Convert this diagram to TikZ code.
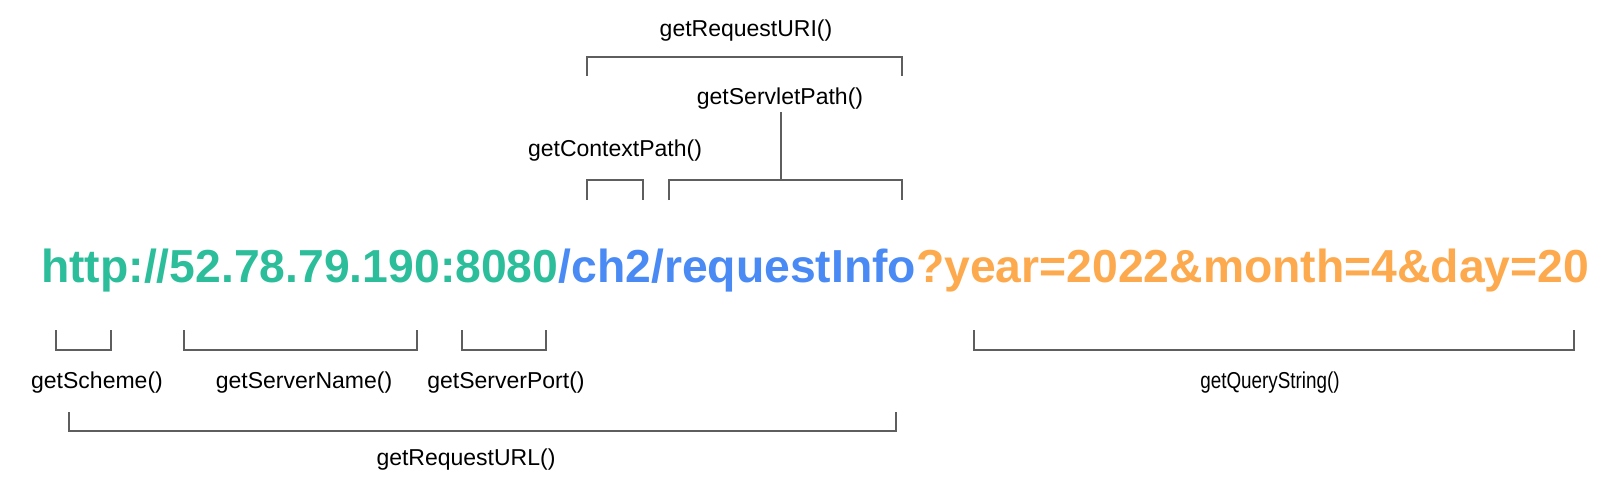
\documentclass[tikz,border=0pt]{standalone}
\usepackage{fontspec}
\setmainfont{Liberation Sans}
\usepackage{graphicx}
\usetikzlibrary{calc}
\definecolor{urlgreen}{HTML}{2CBE9A}
\definecolor{urlblue}{HTML}{4A8AF4}
\definecolor{urlorange}{HTML}{FDAA4E}
\definecolor{bracketgray}{HTML}{5E5E5E}

\begin{document}
\begin{tikzpicture}[x=1pt,y=-1pt,
    bracket/.style={draw=bracketgray,line width=1.6pt},
    method/.style={inner sep=2pt,font=\fontsize{23}{26}\selectfont}]
  \useasboundingbox (0,0) rectangle (1610,498);
  \node[anchor=base west,inner sep=0pt,font=\fontsize{46.3}{50}\selectfont\bfseries] (url) at (41,282)
    {\textcolor{urlgreen}{http://52.78.79.190:8080}\textcolor{urlblue}{/ch2/requestInfo}\textcolor{urlorange}{?year=2022\&month=4\&day=20}};
  % above the url
  \node[method] (uri) at (746,31) {getRequestURI()};
  \node[method] (servlet) at (780,99) {getServletPath()};
  \node[method] (context) at (615,151) {getContextPath()};
  \coordinate (uriL) at (587,76);
  \coordinate (uriR) at (902,76);
  \coordinate (ctxL) at (587,200);
  \coordinate (ctxR) at (643,200);
  \coordinate (svlL) at (669,200);
  \coordinate (svlR) at (902,200);
  \coordinate (svlM) at (781,180);
  \draw[bracket] (uriL) -- ++(0,-19) -| (uriR);
  \draw[bracket] (ctxL) -- ++(0,-20) -| (ctxR);
  \draw[bracket] (svlL) -- ++(0,-20) -| (svlR);
  \draw[bracket] (servlet.south -| svlM) -- (svlM);
  % below the url
  \node[method] (scheme) at (97,383) {getScheme()};
  \node[method] (server) at (304,383) {getServerName()};
  \node[method] (port) at (506,383) {getServerPort()};
  \node[method] (query) at (1270,383) {\scalebox{0.82}[1]{getQueryString()}};
  \node[method] (requrl) at (466,460) {getRequestURL()};
  \coordinate (schL) at (56,330);
  \coordinate (schR) at (111,330);
  \coordinate (srvL) at (184,330);
  \coordinate (srvR) at (417,330);
  \coordinate (prtL) at (462,330);
  \coordinate (prtR) at (546,330);
  \coordinate (qryL) at (974,330);
  \coordinate (qryR) at (1574,330);
  \coordinate (rqlL) at (69,412);
  \coordinate (rqlR) at (896,412);
  \draw[bracket] (schL) -- ++(0,20) -| (schR);
  \draw[bracket] (srvL) -- ++(0,20) -| (srvR);
  \draw[bracket] (prtL) -- ++(0,20) -| (prtR);
  \draw[bracket] (qryL) -- ++(0,20) -| (qryR);
  \draw[bracket] (rqlL) -- ++(0,19) -| (rqlR);
\end{tikzpicture}
\end{document}
